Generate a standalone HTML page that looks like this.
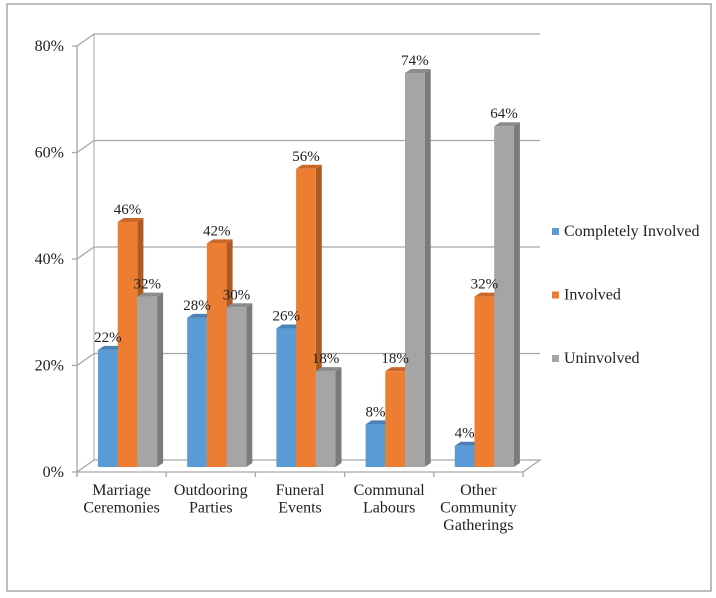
<!DOCTYPE html>
<html><head><meta charset="utf-8"><style>
body{margin:0;background:#fff;}
svg{display:block;font-family:"Liberation Serif",serif;}
</style></head><body>
<svg id="chart" width="716" height="598">
<rect x="7" y="4" width="704" height="587" fill="#fff" stroke="#a6a6a6" stroke-width="1.5"/>
<g id="grid"></g>
<g id="bars"></g>
<g id="labels"></g>
<g id="legend"></g>
</svg>
<script>
const categories=[["Marriage","Ceremonies"],["Outdooring","Parties"],["Funeral","Events"],["Communal","Labours"],["Other","Community","Gatherings"]];
const seriesNames=["Completely Involved","Involved","Uninvolved"];
const completelyInvolved=[22,28,26,8,4];
const involved=[46,42,56,18,32];
const uninvolved=[32,30,18,74,64];
const yTicks=[0,20,40,60,80];
const yTickLabels=["0%","20%","40%","60%","80%"];

const NS="http://www.w3.org/2000/svg";
const series=[completelyInvolved,involved,uninvolved];
const colors=[["#5b9bd5","#41719c","#4a80b5"],["#ed7d31","#ae5a21","#c9682a"],["#a5a5a5","#7b7b7b","#8c8c8c"]];
const x0=77,x1=523,floorY=472,dx=17,dy=-12,scale=5.325;
const catW=(x1-x0)/categories.length;
function yF(v){return floorY-v*scale;}
function xC(i){return x0+i*catW;}
function mk(tag,attrs,parent){const e=document.createElementNS(NS,tag);for(const k in attrs)e.setAttribute(k,attrs[k]);parent.appendChild(e);return e;}
const grid=document.getElementById('grid'),bars=document.getElementById('bars'),labels=document.getElementById('labels'),legend=document.getElementById('legend');
yTicks.forEach((t,i)=>{
  const y=yF(t);
  const g=mk('polyline',{points:`${x0-5},${y} ${x0},${y} ${x0+dx},${y+dy} ${x1+dx},${y+dy}`+(t===0?` ${x1},${y} ${x0},${y}`:''),fill:'none',stroke:'#a6a6a6','stroke-width':1.3},grid);
  
  
  const tx=mk('text',{x:x0-13,y:y+5,'text-anchor':'end','font-size':16,fill:'#222'},labels);
  tx.textContent=yTickLabels[i];
  
  
});
let ax=mk('line',{x1:x0,y1:yF(80),x2:x0,y2:floorY+5,stroke:'#a6a6a6','stroke-width':1.3},grid);


let bw=mk('line',{x1:x0+dx,y1:yF(80)+dy,x2:x0+dx,y2:floorY+dy,stroke:'#a6a6a6','stroke-width':1},grid);


for(let i=0;i<=categories.length;i++){
  const t=mk('line',{x1:xC(i),y1:floorY,x2:xC(i),y2:floorY+5,stroke:'#a6a6a6','stroke-width':1.3},grid);
  
  
}
const barW=19.7,bdx=6,bdy=-4,base=467;
categories.forEach((c,i)=>{
  series.forEach((s,k)=>{
    const v=s[i];const left=xC(i)+21+k*barW;const top=base-v*scale;
    const g=mk('g',{},bars);
    
    
    mk('polygon',{points:`${left+barW},${top} ${left+barW+bdx},${top+bdy} ${left+barW+bdx},${base+bdy} ${left+barW},${base}`,fill:colors[k][1]},g);
    mk('polygon',{points:`${left},${top} ${left+bdx},${top+bdy} ${left+barW+bdx},${top+bdy} ${left+barW},${top}`,fill:colors[k][2]},g);
    mk('rect',{x:left,y:top,width:barW,height:base-top,fill:colors[k][0]},g);
    const t=mk('text',{x:left+barW/2,y:top-8,'text-anchor':'middle','font-size':15,fill:'#222'},labels);
    t.textContent=v+'%';
    
    
  });
  c.forEach((line,j)=>{
    const t=mk('text',{x:xC(i)+catW/2,y:495+j*17.5,'text-anchor':'middle','font-size':16,fill:'#222'},labels);
    t.textContent=line;
    
    
  });
});
seriesNames.forEach((n,k)=>{
  const y=232+k*63.5;
  const g=mk('g',{},legend);
  
  
  mk('rect',{x:552,y:y-4,width:7,height:7,fill:colors[k][0]},g);
  const t=mk('text',{x:564,y:y+4,'font-size':16,fill:'#222'},g);
  t.textContent=n;
});
</script>
</body></html>
